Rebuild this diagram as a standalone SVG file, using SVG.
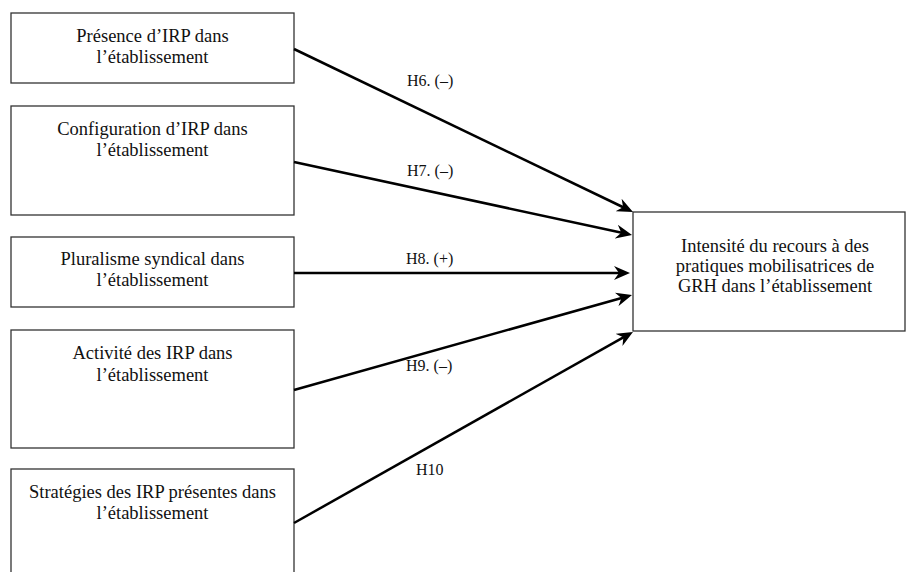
<svg xmlns="http://www.w3.org/2000/svg" width="907" height="572" viewBox="0 0 907 572">
  <style>
    .box { fill: #ffffff; stroke: #333333; stroke-width: 1.3; }
    .t { font-family: "Liberation Serif", "Times New Roman", serif; font-size: 18.5px; fill: #111111; text-anchor: middle; }
    .lbl { font-family: "Liberation Serif", "Times New Roman", serif; font-size: 16px; fill: #111111; }
    .edge { stroke: #000000; stroke-width: 2.5; fill: none; marker-end: url(#arr); }
  </style>
  <defs>
    <marker id="arr" markerUnits="userSpaceOnUse" viewBox="0 0 16 14" markerWidth="16" markerHeight="14" refX="8" refY="7" orient="auto">
      <path d="M0,0 L16,7 L0,14 L5,7 z" fill="#000000"/>
    </marker>
  </defs>
  <rect width="907" height="572" fill="#ffffff"/>

  <g id="n1">
    <rect class="box" x="11" y="13" width="283" height="70"/>
    <text class="t" x="152.5" y="42">Présence d’IRP dans</text>
    <text class="t" x="152.5" y="63">l’établissement</text>
  </g>
  <g id="n2">
    <rect class="box" x="11" y="106" width="283" height="109"/>
    <text class="t" x="152.5" y="135">Configuration d’IRP dans</text>
    <text class="t" x="152.5" y="156">l’établissement</text>
  </g>
  <g id="n3">
    <rect class="box" x="11" y="237" width="283" height="70"/>
    <text class="t" x="152.5" y="265">Pluralisme syndical dans</text>
    <text class="t" x="152.5" y="286">l’établissement</text>
  </g>
  <g id="n4">
    <rect class="box" x="11" y="330" width="283" height="118"/>
    <text class="t" x="152.5" y="359">Activité des IRP dans</text>
    <text class="t" x="152.5" y="381">l’établissement</text>
  </g>
  <g id="n5">
    <rect class="box" x="11" y="469" width="283" height="115"/>
    <text class="t" x="152.5" y="498">Stratégies des IRP présentes dans</text>
    <text class="t" x="152.5" y="519">l’établissement</text>
  </g>
  <g id="target">
    <rect class="box" x="633" y="212" width="272" height="119"/>
    <text class="t" x="775" y="252">Intensité du recours à des</text>
    <text class="t" x="775" y="272">pratiques mobilisatrices de</text>
    <text class="t" x="775" y="291.5">GRH dans l’établissement</text>
  </g>

  <g id="connectors">
    <line class="edge" x1="294" y1="49" x2="625.8" y2="208.5"/>
    <line class="edge" x1="294" y1="162" x2="624.2" y2="233.3"/>
    <line class="edge" x1="294" y1="273" x2="622" y2="273"/>
    <line class="edge" x1="294" y1="390" x2="624.3" y2="297.2"/>
    <line class="edge" x1="294" y1="523" x2="626" y2="335.9"/>
    <text class="lbl" x="407" y="86">H6. (–)</text>
    <text class="lbl" x="407" y="176">H7. (–)</text>
    <text class="lbl" x="406" y="264">H8. (+)</text>
    <text class="lbl" x="406" y="371">H9. (–)</text>
    <text class="lbl" x="416" y="475">H10</text>
  </g>
</svg>
